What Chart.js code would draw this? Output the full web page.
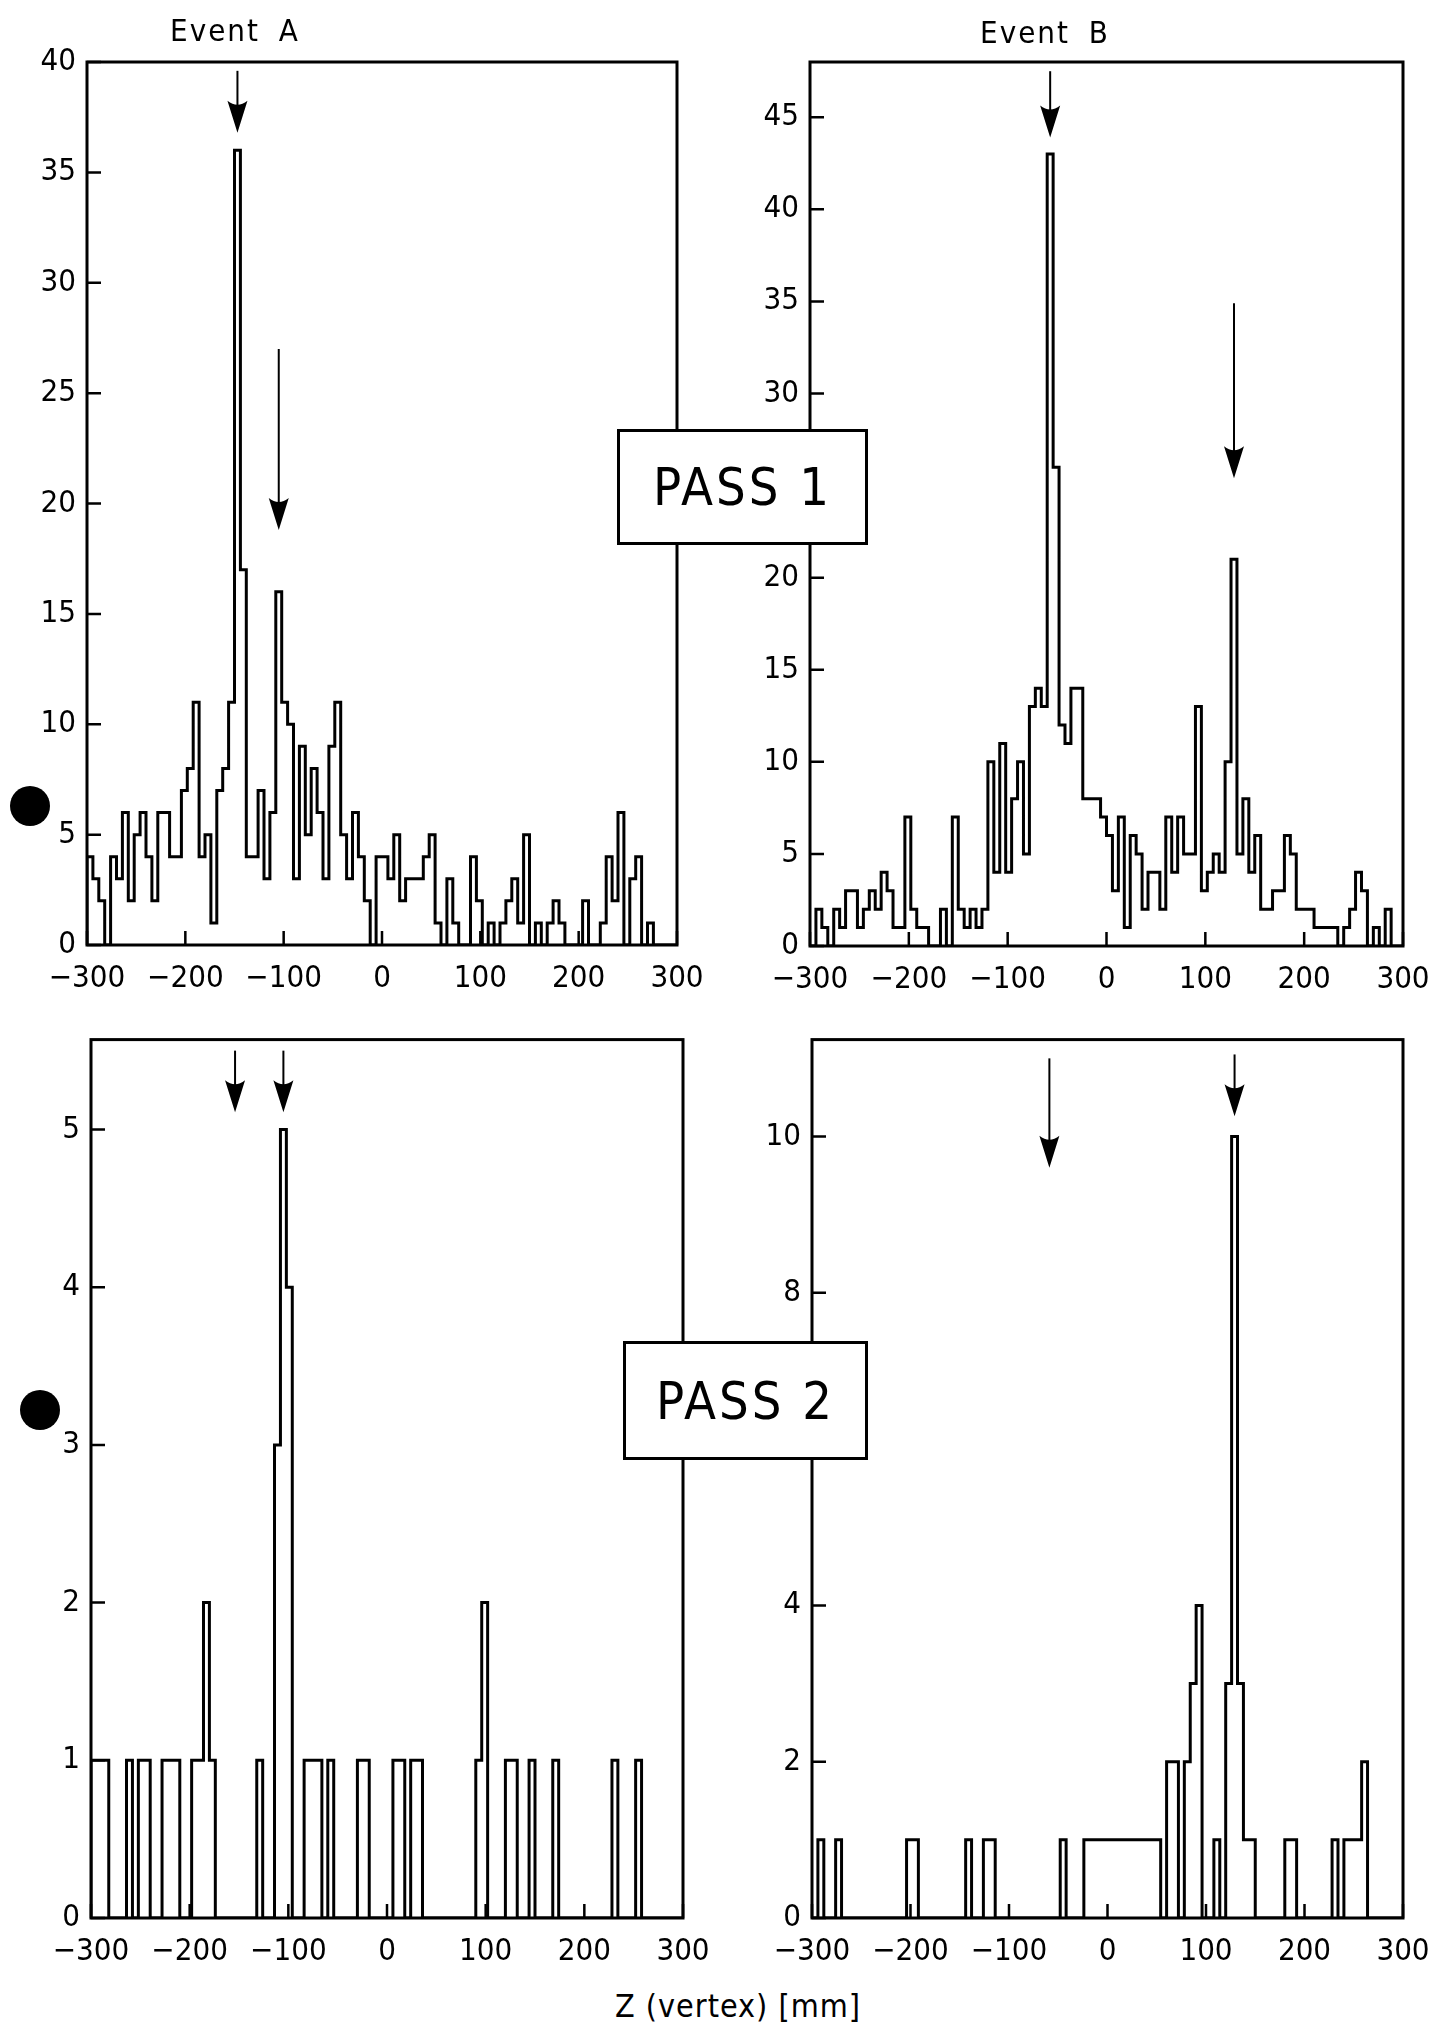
<!DOCTYPE html>
<html>
<head>
<meta charset="utf-8">
<script src="https://cdn.jsdelivr.net/npm/chart.js@4.4.1/dist/chart.umd.min.js"></script>
<style>
  html, body { margin: 0; padding: 0; background: #fff; }
  body { width: 1456px; height: 2025px; position: relative; overflow: hidden;
         font-family: 'DejaVu Sans Condensed', 'Liberation Sans Narrow', sans-serif; color: #000; }
  canvas { position: absolute; }
  .lbl { position: absolute; white-space: nowrap; transform: translate(-50%, -50%); }
  .pass { position: absolute; background: #fff; border: 3px solid #000; box-sizing: border-box;
          display: flex; align-items: center; justify-content: center;
          font-size: 52px; letter-spacing: 3px; z-index: 2; }
  .dot { position: absolute; width: 40px; height: 40px; border-radius: 50%; background: #000; }
</style>
</head>
<body>
<canvas id="chartA1" width="728" height="1010" style="left:0;top:0"></canvas>
<canvas id="chartB1" width="728" height="1010" style="left:728px;top:0"></canvas>
<canvas id="chartA2" width="728" height="960" style="left:0;top:1010px"></canvas>
<canvas id="chartB2" width="728" height="960" style="left:728px;top:1010px"></canvas>

<div class="lbl" style="left:235px;top:30px;font-size:31px;letter-spacing:2px;word-spacing:8px">Event A</div>
<div class="lbl" style="left:1045px;top:32px;font-size:31px;letter-spacing:2px;word-spacing:8px">Event B</div>
<div class="pass" style="left:617px;top:429px;width:251px;height:116px">PASS 1</div>
<div class="pass" style="left:623px;top:1341px;width:245px;height:119px">PASS 2</div>
<div class="lbl" style="left:738px;top:2006px;font-size:32px;letter-spacing:1px">Z (vertex) [mm]</div>
<div class="dot" style="left:10px;top:786px"></div>
<div class="dot" style="left:20px;top:1390px"></div>

<script>
// 6 mm bins from -300 to +300 mm
const binEdges = [];
for (let i = 0; i < 100; i++) binEdges.push(-300 + 6 * i);

const xTicks = [-300, -200, -100, 0, 100, 200, 300];

// entries per bin
const eventA_pass1 = [
  4,3,2,0,4,3,6,2,5,6, 4,2,6,6,4,4,7,8,11,4, 5,1,7,8,11,36,17,4,4,7,
  3,6,16,11,10,3,9,5,8,6, 3,9,11,5,3,6,4,2,0,4,
  4,3,5,2,3,3,3,4,5,1, 0,3,1,0,0,4,2,0,1,0, 1,2,3,1,5,0,1,0,1,2,
  1,0,0,0,2,0,0,1,4,2, 6,0,3,4,0,1,0,0,0,0
];
const eventB_pass1 = [
  0,2,1,0,2,1,3,3,1,2, 3,2,4,3,1,1,7,2,1,1, 0,0,2,0,7,2,1,2,1,2,
  10,4,11,4,8,10,5,13,14,13, 43,26,12,11,14,14,8,8,8,7,
  6,3,7,1,6,5,2,4,4,2, 7,4,7,5,5,13,3,4,5,4, 10,21,5,8,4,6,2,2,3,3,
  6,5,2,2,2,1,1,1,1,0, 1,2,4,3,0,1,0,2,0,0
];
const eventA_pass2 = [
  1,1,1,0,0,0,1,0,1,1, 0,0,1,1,1,0,0,1,1,2, 1,0,0,0,0,0,0,0,1,0,
  0,3,5,4,0,0,1,1,1,0, 1,0,0,0,0,1,1,0,0,0,
  0,1,1,0,1,1,0,0,0,0, 0,0,0,0,0,1,2,0,0,0, 1,1,0,0,1,0,0,0,1,0,
  0,0,0,0,0,0,0,0,1,0, 0,0,1,0,0,0,0,0,0,0
];
const eventB_pass2 = [
  0,1,0,0,1,0,0,0,0,0, 0,0,0,0,0,0,1,1,0,0, 0,0,0,0,0,0,1,0,0,1,
  1,0,0,0,0,0,0,0,0,0, 0,0,1,0,0,0,1,1,1,1,
  1,1,1,1,1,1,1,1,1,0, 2,2,0,2,3,4,0,0,1,0, 3,10,3,1,1,0,0,0,0,0,
  1,1,0,0,0,0,0,0,1,0, 1,1,1,2,0,0,0,0,0,0
];

// arrows: x position [mm], start and tip height [entries]
const arrowsA1_x = [-147, -105], arrowsA1_from = [39.6, 27], arrowsA1_to = [36.8, 18.8];
const arrowsB1_x = [-57, 129],  arrowsB1_from = [47.5, 34.9], arrowsB1_to = [43.9, 25.4];
const arrowsA2_x = [-154, -105], arrowsA2_from = [5.5, 5.5], arrowsA2_to = [5.11, 5.11];
const arrowsB2_x = [-59, 129],  arrowsB2_from = [11.0, 11.05], arrowsB2_to = [9.6, 10.26];

const tickFont = { family: "'DejaVu Sans Condensed', 'Liberation Sans Narrow', sans-serif", size: 31 };

function histPoints(values) {
  const pts = [{ x: -300, y: 0 }];
  values.forEach((v, i) => pts.push({ x: binEdges[i], y: v }));
  pts.push({ x: 300, y: 0 });
  return pts;
}

// frame, inward tick marks and arrows
const framePlugin = {
  id: 'frame',
  afterDatasetsDraw(chart, args, opts) {
    const { ctx, chartArea: a, scales: { x, y } } = chart;
    ctx.save();
    ctx.strokeStyle = '#000';
    ctx.fillStyle = '#000';
    ctx.lineWidth = 3;
    ctx.strokeRect(a.left, a.top, a.right - a.left, a.bottom - a.top);
    ctx.lineWidth = 2.5;
    ctx.beginPath();
    x.ticks.forEach(t => {
      const px = x.getPixelForValue(t.value);
      ctx.moveTo(px, a.bottom); ctx.lineTo(px, a.bottom - 14);
    });
    y.ticks.forEach(t => {
      const py = y.getPixelForValue(t.value);
      ctx.moveTo(a.left, py); ctx.lineTo(a.left + 14, py);
    });
    ctx.stroke();
    const ax = opts.ax || [];
    ax.forEach((xv, i) => {
      const px = x.getPixelForValue(xv);
      const y0 = y.getPixelForValue(opts.from[i]);
      const y1 = y.getPixelForValue(opts.to[i]);
      ctx.lineWidth = 2;
      ctx.beginPath(); ctx.moveTo(px, y0); ctx.lineTo(px, y1 - 26); ctx.stroke();
      ctx.beginPath();
      ctx.moveTo(px - 10, y1 - 32);
      ctx.quadraticCurveTo(px, y1 - 24, px + 10, y1 - 32);
      ctx.lineTo(px, y1);
      ctx.closePath();
      ctx.fill();
    });
    ctx.restore();
  }
};

function makeChart(id, values, p) {
  new Chart(document.getElementById(id), {
    type: 'line',
    data: {
      datasets: [{
        data: histPoints(values),
        stepped: true,
        borderColor: '#000',
        borderWidth: 3,
        fill: false,
        pointRadius: 0
      }]
    },
    options: {
      responsive: false,
      animation: false,
      devicePixelRatio: 1,
      layout: { padding: { left: 0, top: p.top, right: p.right, bottom: 0 } },
      plugins: {
        legend: { display: false },
        tooltip: { enabled: false },
        frame: { ax: p.ax, from: p.from, to: p.to }
      },
      scales: {
        x: {
          type: 'linear', min: -300, max: 300,
          afterBuildTicks: s => { s.ticks = xTicks.map(v => ({ value: v })); },
          ticks: {
            autoSkip: false, maxRotation: 0, padding: 15, color: '#000', font: tickFont,
            callback: v => String(v).replace('-', '\u2212')
          },
          grid: { display: false, drawTicks: false },
          border: { display: false },
          afterFit: s => { s.height = p.xh; }
        },
        y: {
          type: 'linear', min: 0, max: p.ymax,
          ticks: { stepSize: p.ystep, includeBounds: false, padding: 11, color: '#000', font: tickFont },
          grid: { display: false, drawTicks: false },
          border: { display: false },
          afterFit: s => { s.width = p.yw; }
        }
      }
    },
    plugins: [framePlugin]
  });
}

makeChart('chartA1', eventA_pass1, { top: 62, right: 51, yw: 87, xh: 65, ymax: 40, ystep: 5,
  ax: arrowsA1_x, from: arrowsA1_from, to: arrowsA1_to });
makeChart('chartB1', eventB_pass1, { top: 62, right: 53, yw: 82, xh: 64, ymax: 48, ystep: 5,
  ax: arrowsB1_x, from: arrowsB1_from, to: arrowsB1_to });
makeChart('chartA2', eventA_pass2, { top: 24, right: 45, yw: 91, xh: 52, ymax: 5.57, ystep: 1,
  ax: arrowsA2_x, from: arrowsA2_from, to: arrowsA2_to });
makeChart('chartB2', eventB_pass2, { top: 24, right: 53, yw: 84, xh: 52, ymax: 11.24, ystep: 2,
  ax: arrowsB2_x, from: arrowsB2_from, to: arrowsB2_to });
</script>
</body>
</html>
